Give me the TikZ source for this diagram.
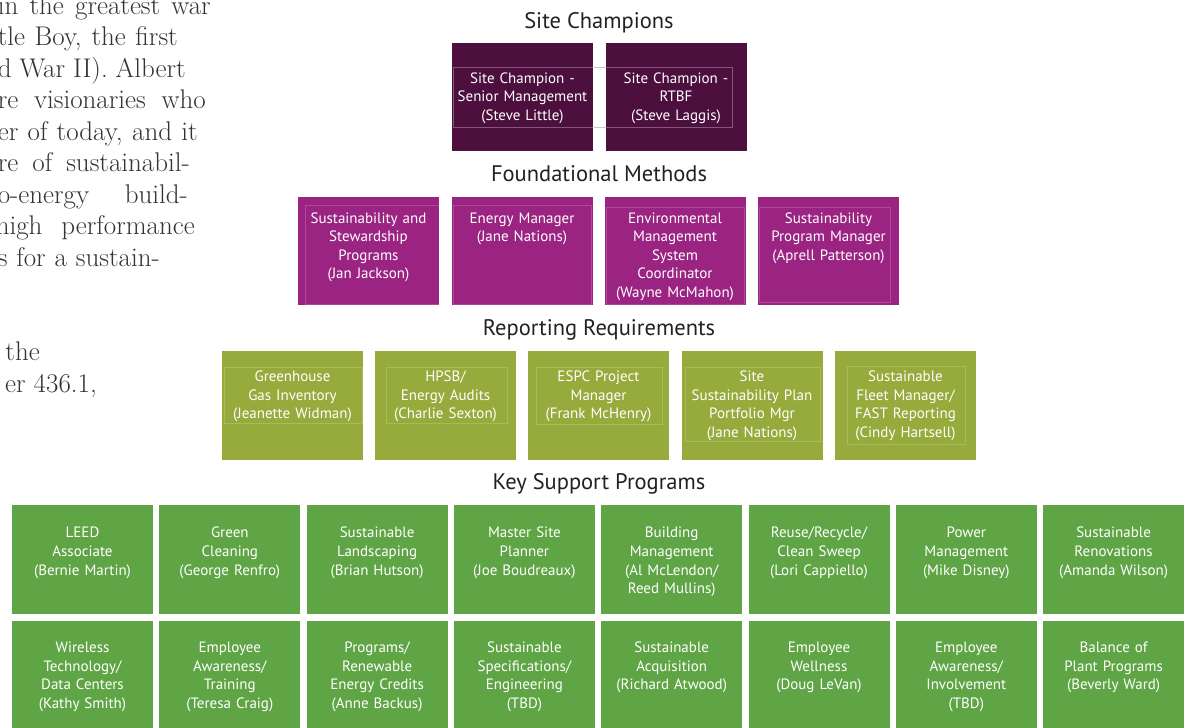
\documentclass[tikz,border=0pt]{standalone}
\usepackage{fontspec}
\newfontfamily\cardfont{PT Sans}

\definecolor{champ}{HTML}{4C0F3E}
\definecolor{method}{HTML}{9B2382}
\definecolor{report}{HTML}{97AA3C}
\definecolor{support}{HTML}{5FA545}
\definecolor{titlegray}{HTML}{222222}
\definecolor{bodygray}{HTML}{333333}

% one justified line of the page text, spread to the given width
\newcommand{\bodyline}[2]{\makebox[#1pt][s]{#2}}

\tikzset{
  card/.style={rectangle, minimum width=141pt, minimum height=108pt, inner sep=0pt},
  champbox/.style={card, fill=champ},
  methodbox/.style={card, fill=method},
  reportbox/.style={card, fill=report, minimum height=109pt},
  supportbox/.style={card, fill=support, minimum height=109pt},
  cardtext/.style={text width=141pt, align=center, inner sep=0pt, anchor=base,
    text=white, font=\cardfont\fontsize{15}{18.6}\selectfont},
  rowtitle/.style={anchor=base, inner sep=0pt, text=titlegray,
    font=\cardfont\fontsize{22.5}{26}\selectfont},
  bodytext/.style={anchor=base east, inner sep=0pt, text=bodygray,
    font=\fontsize{27}{31.5}\selectfont},
  ghost/.style={draw=white, draw opacity=0.3, line width=0.7pt},
  faint/.style={ghost, draw opacity=0.18},
}

\begin{document}
\begin{tikzpicture}[x=1pt,y=-1pt]
  \useasboundingbox (0,0) rectangle (1187,728);
  \fill[white] (0,0) rectangle (1187,728);
  \clip (0,0) rectangle (1187,728);

  % running text of the page on the left
  \node[bodytext] (b1) at (211,15) {\bodyline{213}{in the greatest war}};
  \node[bodytext] (b2) at (178,45.5) {\bodyline{180}{tle Boy, the first}};
  \node[bodytext] (b3) at (186,77) {\bodyline{188}{d War II). Albert}};
  \node[bodytext] (b4) at (206,108.5) {\bodyline{208}{re visionaries who}};
  \node[bodytext] (b5) at (198,140) {\bodyline{200}{er of today, and it}};
  \node[bodytext] (b6) at (190,171.5) {\bodyline{192}{re of sustainabil-}};
  \node[bodytext] (b7) at (188,203) {\bodyline{190}{o-energy build-}};
  \node[bodytext] (b8) at (195,234.5) {\bodyline{199}{high performance}};
  \node[bodytext] (b9) at (160,266) {\bodyline{162}{s for a sustain-}};
  \node[bodytext] (b10) at (40,360.5) {the};
  \node[bodytext] (b11) at (97,392) {er 436.1,};

  % Site Champions
  \node[rowtitle] (tchamp) at (599,28) {Site Champions};
  \node[champbox] (sc1) at (522.5,97) {};
  \node[champbox] (sc2) at (676,97) {};
  \draw[ghost] (453,67) rectangle (732,127);
  \draw[champ!25, line width=0.7pt] (593.5,67) -- (605.5,67) (593.5,127) -- (605.5,127);
  \node[cardtext] (sc1t) at ([yshift=-40.3pt]sc1.north) {Site Champion -\\Senior Management\\(Steve Little)};
  \node[cardtext] (sc2t) at ([yshift=-40.3pt]sc2.north) {Site Champion -\\RTBF\\(Steve Laggis)};

  % Foundational Methods
  \node[rowtitle] (tmethod) at (599,181) {Foundational Methods};
  \node[methodbox] (fm1) at (368.5,251) {};
  \node[methodbox] (fm2) at (522,251) {};
  \node[methodbox] (fm3) at (675,251) {};
  \node[methodbox] (fm4) at (828.5,251) {};
  \draw[faint] (305,205) rectangle (439,304) (453,205) rectangle (591,304)
    (606,207) rectangle (744,304) (759,207) rectangle (890,302);
  \node[cardtext] (fm1t) at ([yshift=-26.3pt]fm1.north) {Sustainability and\\Stewardship\\Programs\\(Jan Jackson)};
  \node[cardtext] (fm2t) at ([yshift=-26.3pt]fm2.north) {Energy Manager\\(Jane Nations)};
  \node[cardtext] (fm3t) at ([yshift=-26.3pt]fm3.north) {Environmental\\Management\\System\\Coordinator\\(Wayne McMahon)};
  \node[cardtext] (fm4t) at ([yshift=-26.3pt]fm4.north) {Sustainability\\Program Manager\\(Aprell Patterson)};

  % Reporting Requirements
  \node[rowtitle] (treport) at (599,335) {Reporting Requirements};
  \node[reportbox] (rr1) at (292.5,405.5) {};
  \node[reportbox] (rr2) at (445.5,405.5) {};
  \node[reportbox] (rr3) at (598.5,405.5) {};
  \node[reportbox] (rr4) at (752,405.5) {};
  \node[reportbox] (rr5) at (905.5,405.5) {};
  \draw[faint] (224,367) rectangle (362,423) (386,367) rectangle (507,423)
    (536,367) rectangle (662,424) (685,367) rectangle (820,441)
    (847,366) rectangle (965,444);
  \node[cardtext] (rr1t) at ([yshift=-30.7pt]rr1.north) {Greenhouse\\Gas Inventory\\(Jeanette Widman)};
  \node[cardtext] (rr2t) at ([yshift=-30.7pt]rr2.north) {HPSB/\\Energy Audits\\(Charlie Sexton)};
  \node[cardtext] (rr3t) at ([yshift=-30.7pt]rr3.north) {ESPC Project\\Manager\\(Frank McHenry)};
  \node[cardtext] (rr4t) at ([yshift=-30.7pt]rr4.north) {Site\\Sustainability Plan\\Portfolio Mgr\\(Jane Nations)};
  \node[cardtext] (rr5t) at ([yshift=-30.7pt]rr5.north) {Sustainable\\Fleet Manager/\\FAST Reporting\\(Cindy Hartsell)};

  % Key Support Programs, first row
  \node[rowtitle] (tsupport) at (599,489) {Key Support Programs};
  \node[supportbox] (ks1) at (82.5,559.5) {};
  \node[supportbox] (ks2) at (229.8,559.5) {};
  \node[supportbox] (ks3) at (377.1,559.5) {};
  \node[supportbox] (ks4) at (524.4,559.5) {};
  \node[supportbox] (ks5) at (671.7,559.5) {};
  \node[supportbox] (ks6) at (819,559.5) {};
  \node[supportbox] (ks7) at (966.3,559.5) {};
  \node[supportbox] (ks8) at (1113.6,559.5) {};
  \node[cardtext] (ks1t) at ([yshift=-33pt]ks1.north) {LEED\\Associate\\(Bernie Martin)};
  \node[cardtext] (ks2t) at ([yshift=-33pt]ks2.north) {Green\\Cleaning\\(George Renfro)};
  \node[cardtext] (ks3t) at ([yshift=-33pt]ks3.north) {Sustainable\\Landscaping\\(Brian Hutson)};
  \node[cardtext] (ks4t) at ([yshift=-33pt]ks4.north) {Master Site\\Planner\\(Joe Boudreaux)};
  \node[cardtext] (ks5t) at ([yshift=-33pt]ks5.north) {Building\\Management\\(Al McLendon/\\Reed Mullins)};
  \node[cardtext] (ks6t) at ([yshift=-33pt]ks6.north) {Reuse/Recycle/\\Clean Sweep\\(Lori Cappiello)};
  \node[cardtext] (ks7t) at ([yshift=-33pt]ks7.north) {Power\\Management\\(Mike Disney)};
  \node[cardtext] (ks8t) at ([yshift=-33pt]ks8.north) {Sustainable\\Renovations\\(Amanda Wilson)};

  % second row
  \node[supportbox] (ks9) at (82.5,675.5) {};
  \node[supportbox] (ks10) at (229.8,675.5) {};
  \node[supportbox] (ks11) at (377.1,675.5) {};
  \node[supportbox] (ks12) at (524.4,675.5) {};
  \node[supportbox] (ks13) at (671.7,675.5) {};
  \node[supportbox] (ks14) at (819,675.5) {};
  \node[supportbox] (ks15) at (966.3,675.5) {};
  \node[supportbox] (ks16) at (1113.6,675.5) {};
  \node[cardtext] (ks9t) at ([yshift=-31.7pt]ks9.north) {Wireless\\Technology/\\Data Centers\\(Kathy Smith)};
  \node[cardtext] (ks10t) at ([yshift=-31.7pt]ks10.north) {Employee\\Awareness/\\Training\\(Teresa Craig)};
  \node[cardtext] (ks11t) at ([yshift=-31.7pt]ks11.north) {Programs/\\Renewable\\Energy Credits\\(Anne Backus)};
  \node[cardtext] (ks12t) at ([yshift=-31.7pt]ks12.north) {Sustainable\\Specifications/\\Engineering\\(TBD)};
  \node[cardtext] (ks13t) at ([yshift=-31.7pt]ks13.north) {Sustainable\\Acquisition\\(Richard Atwood)};
  \node[cardtext] (ks14t) at ([yshift=-31.7pt]ks14.north) {Employee\\Wellness\\(Doug LeVan)};
  \node[cardtext] (ks15t) at ([yshift=-31.7pt]ks15.north) {Employee\\Awareness/\\Involvement\\(TBD)};
  \node[cardtext] (ks16t) at ([yshift=-31.7pt]ks16.north) {Balance of\\Plant Programs\\(Beverly Ward)};
\end{tikzpicture}
\end{document}
